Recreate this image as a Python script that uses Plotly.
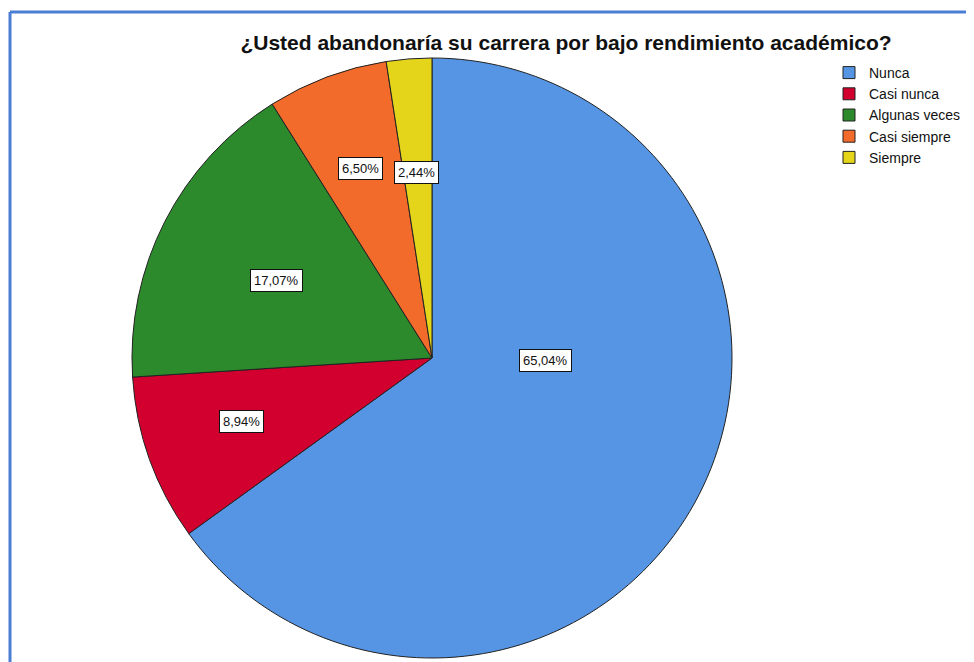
import math
import plotly.graph_objects as go

categories = ["Nunca", "Casi nunca", "Algunas veces", "Casi siempre", "Siempre"]
percentages = [65.04, 8.94, 17.07, 6.50, 2.44]
label_texts = ["65,04%", "8,94%", "17,07%", "6,50%", "2,44%"]
colors = ["#5595e4", "#d2002e", "#2c8a2c", "#f26b2b", "#e4d51a"]

# page body has an 8px margin; work in window pixels and convert
OFF = 8
W, H = 974 - OFF, 662 - OFF


def px2x(px):
    return (px - OFF) / W


def py2y(py):
    return 1 - (py - OFF) / H


# label placement style: radial fraction and angle tweak (degrees)
label_rfrac = [0.38, 0.74, 0.66, 0.71, 0.66]
label_dang = [-26, 3, -4, 1, 0]

dom_x = [px2x(132), px2x(732)]
dom_y = [py2y(658), py2y(58)]

fig = go.Figure(go.Pie(
    labels=categories, values=percentages,
    marker=dict(colors=colors, line=dict(color="#222222", width=1)),
    sort=False, direction="clockwise", rotation=0,
    textinfo="none", hoverinfo="label+percent",
    domain=dict(x=dom_x, y=dom_y),
))

cx = (dom_x[0] + dom_x[1]) / 2 * W
cy = (1 - (dom_y[0] + dom_y[1]) / 2) * H
R = min((dom_x[1] - dom_x[0]) * W, (dom_y[1] - dom_y[0]) * H) / 2
total = sum(percentages)
cum = 0
for v, t, rf, da in zip(percentages, label_texts, label_rfrac, label_dang):
    mid = (cum + v / 2) / total * 360 + da
    cum += v
    a = math.radians(mid)
    px = cx + rf * R * math.sin(a)
    py = cy - rf * R * math.cos(a)
    fig.add_annotation(
        x=px / W, y=1 - py / H, xref="paper", yref="paper",
        text=t, showarrow=False,
        font=dict(family="Liberation Sans, Arial", size=13, color="#111111"),
        bgcolor="white", bordercolor="#111111", borderwidth=1, borderpad=3,
    )

fig.add_shape(type="line", xref="paper", yref="paper",
              x0=px2x(10), x1=1.02, y0=py2y(12), y1=py2y(12),
              line=dict(color="#4a7dd4", width=3))
fig.add_shape(type="line", xref="paper", yref="paper",
              x0=px2x(10), x1=px2x(10), y0=py2y(12), y1=-0.02,
              line=dict(color="#4a7dd4", width=3))

fig.update_layout(
    width=W, height=H,
    margin=dict(l=0, r=0, t=0, b=0),
    paper_bgcolor="white", plot_bgcolor="white",
    title=dict(text="<b>¿Usted abandonaría su carrera por bajo rendimiento académico?</b>",
               x=px2x(566), xanchor="center", y=py2y(43), yanchor="middle",
               font=dict(family="Liberation Sans, Arial", size=21, color="#111111")),
    legend=dict(x=px2x(829), y=py2y(57), xanchor="left", yanchor="top",
                font=dict(family="Liberation Sans, Arial", size=14, color="#111111"),
                itemwidth=30, tracegroupgap=0, bgcolor="rgba(0,0,0,0)"),
)

fig.write_html("out.html")
